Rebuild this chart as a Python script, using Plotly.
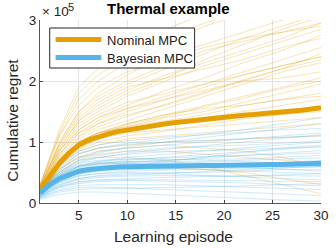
import plotly.graph_objects as go

# values in units of 1e5
episodes = list(range(1, 31))
nominal_mean = [0.22, 0.45, 0.65, 0.82, 0.95, 1.03, 1.09, 1.13, 1.17, 1.20,
                1.23, 1.26, 1.28, 1.30, 1.32, 1.34, 1.36, 1.38, 1.40, 1.42,
                1.43, 1.44, 1.45, 1.46, 1.47, 1.49, 1.50, 1.52, 1.54, 1.56]
bayes_mean = [0.16, 0.30, 0.40, 0.47, 0.52, 0.55, 0.57, 0.58, 0.59, 0.595,
              0.60, 0.60, 0.605, 0.605, 0.61, 0.61, 0.61, 0.615, 0.615, 0.62,
              0.62, 0.625, 0.625, 0.63, 0.63, 0.635, 0.635, 0.64, 0.645, 0.65]

run_x = [1, 2, 3, 5, 7, 10, 14, 18, 22, 26, 30]
nominal_runs = [
    [0.25, 0.6, 0.95, 1.45, 1.7, 1.95, 2.2, 2.45, 2.7, 2.9, 3.1],
    [0.2, 0.5, 0.8, 1.2, 1.4, 1.6, 1.85, 2.05, 2.3, 2.5, 2.75],
    [0.3, 0.7, 1.1, 1.7, 2.0, 2.3, 2.6, 2.9, 3.1, 3.3, 3.5],
    [0.22, 0.45, 0.7, 1.0, 1.15, 1.3, 1.45, 1.6, 1.75, 1.9, 2.05],
    [0.18, 0.4, 0.6, 0.9, 1.05, 1.2, 1.3, 1.4, 1.5, 1.6, 1.7],
    [0.25, 0.55, 0.85, 1.3, 1.5, 1.75, 2.0, 2.25, 2.45, 2.65, 2.85],
    [0.2, 0.42, 0.62, 0.85, 0.95, 1.05, 1.1, 1.15, 1.2, 1.25, 1.3],
    [0.28, 0.65, 1.0, 1.5, 1.8, 2.1, 2.4, 2.6, 2.8, 3.0, 3.2],
    [0.15, 0.35, 0.55, 0.8, 0.9, 0.95, 1.0, 1.02, 1.05, 1.08, 1.1],
    [0.22, 0.5, 0.75, 1.1, 1.3, 1.5, 1.7, 1.9, 2.1, 2.25, 2.4],
    [0.2, 0.45, 0.7, 1.05, 1.2, 1.35, 1.55, 1.75, 1.95, 2.15, 2.3],
    [0.3, 0.75, 1.2, 1.9, 2.2, 2.5, 2.85, 3.1, 3.3, 3.4, 3.5],
    [0.18, 0.38, 0.55, 0.75, 0.8, 0.85, 0.85, 0.8, 0.75, 0.7, 0.65],
    [0.22, 0.48, 0.72, 1.0, 1.15, 1.25, 1.35, 1.45, 1.6, 1.7, 1.8],
    [0.25, 0.55, 0.85, 1.25, 1.45, 1.65, 1.8, 1.95, 2.1, 2.25, 2.4],
    [0.15, 0.3, 0.45, 0.6, 0.65, 0.65, 0.6, 0.55, 0.5, 0.4, 0.3],
    [0.2, 0.45, 0.7, 1.0, 1.15, 1.3, 1.45, 1.55, 1.6, 1.7, 1.75],
    [0.26, 0.6, 0.9, 1.35, 1.6, 1.85, 2.1, 2.3, 2.5, 2.7, 2.95],
    [0.2, 0.42, 0.65, 0.95, 1.05, 1.15, 1.2, 1.25, 1.3, 1.35, 1.4],
    [0.24, 0.55, 0.85, 1.2, 1.4, 1.55, 1.7, 1.85, 2.0, 2.05, 2.15],
    [0.17, 0.36, 0.55, 0.75, 0.85, 0.9, 0.95, 0.9, 0.85, 0.75, 0.6],
    [0.22, 0.5, 0.78, 1.15, 1.3, 1.45, 1.6, 1.8, 2.0, 2.2, 2.45],
    [0.28, 0.7, 1.1, 1.6, 1.9, 2.15, 2.35, 2.55, 2.7, 2.8, 2.9],
    [0.2, 0.45, 0.68, 0.95, 1.1, 1.2, 1.3, 1.35, 1.45, 1.5, 1.55],
    [0.16, 0.35, 0.5, 0.7, 0.75, 0.75, 0.7, 0.6, 0.45, 0.3, 0.15],
    [0.23, 0.52, 0.8, 1.15, 1.35, 1.55, 1.75, 1.95, 2.15, 2.35, 2.55],
    [0.21, 0.46, 0.7, 1.0, 1.15, 1.25, 1.4, 1.5, 1.65, 1.8, 1.95],
    [0.27, 0.62, 0.95, 1.4, 1.65, 1.9, 2.05, 2.2, 2.35, 2.55, 2.7],
    [0.24, 0.58, 0.9, 1.35, 1.55, 1.8, 2.05, 2.35, 2.6, 2.85, 3.05],
    [0.19, 0.44, 0.66, 0.98, 1.12, 1.28, 1.42, 1.58, 1.72, 1.88, 2.0],
    [0.26, 0.63, 0.98, 1.5, 1.75, 2.0, 2.25, 2.5, 2.65, 2.8, 2.95],
    [0.21, 0.47, 0.72, 1.08, 1.25, 1.42, 1.62, 1.82, 2.02, 2.2, 2.35],
    [0.18, 0.4, 0.62, 0.88, 1.0, 1.1, 1.18, 1.28, 1.38, 1.45, 1.5],
    [0.29, 0.72, 1.15, 1.8, 2.1, 2.4, 2.7, 2.95, 3.15, 3.3, 3.45],
]
bayes_runs = [
    [0.15, 0.3, 0.42, 0.6, 0.68, 0.75, 0.8, 0.85, 0.9, 0.95, 1.0],
    [0.12, 0.22, 0.3, 0.4, 0.45, 0.48, 0.5, 0.5, 0.52, 0.55, 0.55],
    [0.2, 0.38, 0.52, 0.72, 0.82, 0.92, 1.0, 1.08, 1.15, 1.22, 1.3],
    [0.1, 0.18, 0.25, 0.32, 0.35, 0.37, 0.36, 0.35, 0.33, 0.3, 0.28],
    [0.18, 0.33, 0.45, 0.6, 0.65, 0.68, 0.7, 0.72, 0.72, 0.75, 0.78],
    [0.08, 0.15, 0.2, 0.25, 0.26, 0.25, 0.22, 0.2, 0.18, 0.15, 0.12],
    [0.22, 0.42, 0.58, 0.8, 0.9, 0.98, 1.05, 1.12, 1.2, 1.3, 1.4],
    [0.14, 0.27, 0.37, 0.5, 0.55, 0.58, 0.6, 0.62, 0.63, 0.65, 0.68],
    [0.16, 0.3, 0.4, 0.52, 0.56, 0.58, 0.57, 0.55, 0.53, 0.5, 0.48],
    [0.12, 0.24, 0.34, 0.47, 0.53, 0.6, 0.68, 0.75, 0.82, 0.9, 0.95],
    [0.2, 0.36, 0.48, 0.62, 0.66, 0.68, 0.68, 0.66, 0.65, 0.63, 0.6],
    [0.06, 0.1, 0.14, 0.18, 0.18, 0.16, 0.13, 0.1, 0.08, 0.05, 0.03],
    [0.18, 0.35, 0.5, 0.7, 0.78, 0.85, 0.9, 0.92, 0.95, 0.98, 1.02],
    [0.13, 0.25, 0.34, 0.45, 0.48, 0.5, 0.48, 0.45, 0.42, 0.4, 0.38],
    [0.17, 0.32, 0.44, 0.58, 0.64, 0.7, 0.75, 0.8, 0.84, 0.88, 0.92],
    [0.1, 0.2, 0.28, 0.38, 0.42, 0.44, 0.45, 0.44, 0.44, 0.45, 0.44],
    [0.24, 0.45, 0.62, 0.85, 0.95, 1.02, 1.08, 1.12, 1.15, 1.2, 1.22],
    [0.15, 0.28, 0.38, 0.5, 0.54, 0.56, 0.55, 0.6, 0.63, 0.66, 0.7],
    [0.11, 0.2, 0.27, 0.35, 0.38, 0.4, 0.42, 0.43, 0.45, 0.46, 0.48],
    [0.19, 0.35, 0.47, 0.62, 0.68, 0.72, 0.74, 0.76, 0.78, 0.8, 0.82],
    [0.09, 0.16, 0.22, 0.28, 0.3, 0.3, 0.3, 0.28, 0.26, 0.24, 0.22],
    [0.16, 0.3, 0.42, 0.56, 0.62, 0.66, 0.7, 0.74, 0.78, 0.82, 0.86],
    [0.2, 0.38, 0.5, 0.65, 0.7, 0.72, 0.72, 0.7, 0.68, 0.66, 0.64],
    [0.14, 0.26, 0.36, 0.48, 0.52, 0.55, 0.58, 0.6, 0.62, 0.62, 0.62],
    [0.12, 0.22, 0.3, 0.4, 0.44, 0.46, 0.48, 0.52, 0.55, 0.58, 0.6],
    [0.18, 0.34, 0.46, 0.6, 0.64, 0.66, 0.65, 0.62, 0.58, 0.55, 0.52],
    [0.07, 0.13, 0.18, 0.22, 0.24, 0.24, 0.25, 0.27, 0.28, 0.3, 0.32],
    [0.21, 0.4, 0.55, 0.75, 0.84, 0.9, 0.95, 1.0, 1.05, 1.1, 1.15],
    [0.17, 0.34, 0.47, 0.66, 0.74, 0.82, 0.88, 0.94, 1.0, 1.06, 1.12],
    [0.13, 0.24, 0.33, 0.44, 0.48, 0.52, 0.54, 0.56, 0.57, 0.58, 0.59],
    [0.19, 0.37, 0.51, 0.68, 0.75, 0.8, 0.84, 0.86, 0.88, 0.9, 0.92],
    [0.1, 0.19, 0.26, 0.34, 0.37, 0.38, 0.38, 0.37, 0.36, 0.36, 0.35],
    [0.15, 0.29, 0.4, 0.54, 0.6, 0.64, 0.66, 0.68, 0.7, 0.72, 0.74],
    [0.23, 0.44, 0.6, 0.82, 0.9, 0.96, 1.0, 1.03, 1.06, 1.08, 1.1],
]

x_ticks = [5, 10, 15, 20, 25, 30]
y_ticks = [0, 1, 2, 3]
series_names = ["Nominal MPC", "Bayesian MPC"]

ORANGE = "#E69F00"
BLUE = "#56B4E9"
FONT = "Liberation Sans, Arial, sans-serif"

fig = go.Figure()
for run in nominal_runs:
    fig.add_trace(go.Scatter(x=run_x, y=run, mode="lines",
                             line=dict(color=ORANGE, width=0.7), opacity=0.4,
                             showlegend=False, hoverinfo="skip"))
for run in bayes_runs:
    fig.add_trace(go.Scatter(x=run_x, y=run, mode="lines",
                             line=dict(color=BLUE, width=0.7), opacity=0.4,
                             showlegend=False, hoverinfo="skip"))
fig.add_trace(go.Scatter(x=episodes, y=nominal_mean, mode="lines", name=series_names[0],
                         line=dict(color=ORANGE, width=5), showlegend=False))
fig.add_trace(go.Scatter(x=episodes, y=bayes_mean, mode="lines", name=series_names[1],
                         line=dict(color=BLUE, width=5), showlegend=False))

# plot area in pixels: left 40, right 329, top 20, bottom 203
def px(xp):
    return (xp - 40) / 289.0

def py(yp):
    return (203 - yp) / 183.0

shapes = [
    # legend box
    dict(type="rect", xref="paper", yref="paper", x0=px(50), x1=px(199),
         y0=py(68), y1=py(28), line=dict(color="#262626", width=1),
         fillcolor="white", layer="above"),
    dict(type="line", xref="paper", yref="paper", x0=px(56), x1=px(103),
         y0=py(39.5), y1=py(39.5), line=dict(color=ORANGE, width=5), layer="above"),
    dict(type="line", xref="paper", yref="paper", x0=px(56), x1=px(103),
         y0=py(57.5), y1=py(57.5), line=dict(color=BLUE, width=5), layer="above"),
]

fig.update_layout(
    width=336, height=248,
    margin=dict(l=40, r=7, t=20, b=45),
    paper_bgcolor="white", plot_bgcolor="white",
    font=dict(family=FONT, size=13, color="#262626"),
    showlegend=False,
    shapes=shapes,
    xaxis=dict(range=[1, 30], tickvals=x_ticks, ticks="inside", ticklen=3,
               tickcolor="#444", showgrid=True, gridcolor="#e3e3e3", gridwidth=1,
               showline=True, linecolor="#555", linewidth=1, zeroline=False,
               ticklabeloverflow="allow",
               tickfont=dict(size=13.5, color="#262626")),
    yaxis=dict(range=[0, 3], tickvals=y_ticks, ticks="inside", ticklen=3,
               tickcolor="#444", showgrid=True, gridcolor="#e3e3e3", gridwidth=1,
               showline=True, linecolor="#555", linewidth=1, zeroline=False,
               ticklabeloverflow="allow",
               tickfont=dict(size=13.5, color="#262626")),
    annotations=[
        dict(text=series_names[0], xref="paper", yref="paper",
             x=px(107), y=py(40), xanchor="left", yanchor="middle",
             showarrow=False, font=dict(size=13, color="#1a1a1a")),
        dict(text=series_names[1], xref="paper", yref="paper",
             x=px(107), y=py(58), xanchor="left", yanchor="middle",
             showarrow=False, font=dict(size=13, color="#1a1a1a")),
        dict(text="<b>Thermal example</b>", xref="paper", yref="paper",
             x=px(172), y=py(9), xanchor="center", yanchor="middle",
             showarrow=False, font=dict(size=15, color="black")),
        dict(text="× 10", xref="paper", yref="paper",
             x=px(40), y=py(12), xanchor="left", yanchor="middle",
             showarrow=False, font=dict(size=13.5, color="#262626")),
        dict(text="5", xref="paper", yref="paper",
             x=px(72), y=py(7), xanchor="center", yanchor="middle",
             showarrow=False, font=dict(size=11, color="#262626")),
        dict(text="Learning episode", xref="paper", yref="paper",
             x=px(177), y=py(236), xanchor="center", yanchor="middle",
             showarrow=False, font=dict(size=15.5, color="#262626")),
        dict(text="Cumulative regret", xref="paper", yref="paper",
             x=px(12), y=py(120), xanchor="center", yanchor="middle",
             textangle=-90, showarrow=False, font=dict(size=15.5, color="#262626")),
    ],
)

fig.write_html("out.html", config={"displayModeBar": False},
               post_script="document.body.style.margin='0';document.body.style.padding='0';")
